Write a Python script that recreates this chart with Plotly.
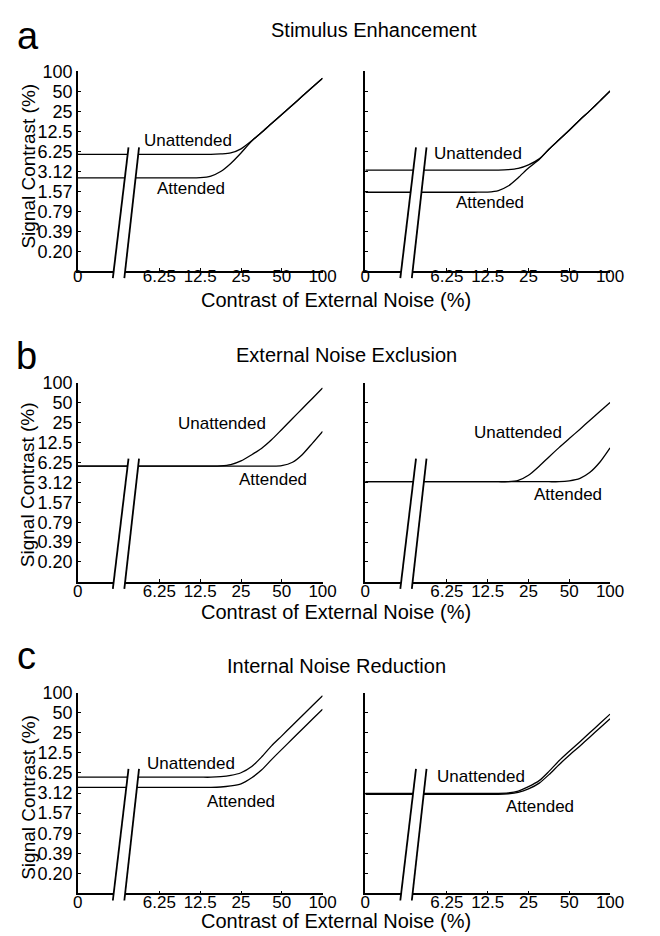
import math
import plotly.graph_objects as go

W, H = 660, 936

# ---------------- data ----------------
# x positions (contrast of external noise, %); "0" is drawn two octaves left of 6.25, before the axis break
x_noise = [1.5625, 6.25, 10, 12.5, 15, 17.7, 21, 25, 30, 35.4, 42, 50, 60, 70.7, 84, 100]

# (a) Stimulus Enhancement
a_left_unatt = [5.6, 5.6, 5.6, 5.6, 5.6, 5.7, 5.9, 6.8, 9.0, 12.0, 16.4, 22.4, 31.2, 42.0, 57.5, 78.6]
a_left_att = [2.48, 2.48, 2.48, 2.5, 2.65, 3.1, 4.1, 5.9, 8.9, 12.0, 16.4, 22.4, 31.2, 42.0, 57.5, 78.6]
a_right_unatt = [3.26, 3.26, 3.26, 3.26, 3.26, 3.3, 3.45, 3.9, 4.8, 6.7, 9.3, 13.0, 18.6, 25.4, 35.6, 50.5]
a_right_att = [1.51, 1.51, 1.51, 1.52, 1.6, 1.87, 2.5, 3.5, 4.7, 6.7, 9.3, 13.0, 18.6, 25.4, 35.6, 50.5]

# (b) External Noise Exclusion
b_left_unatt = [5.5, 5.5, 5.5, 5.5, 5.5, 5.55, 5.8, 6.6, 8.2, 10.2, 13.8, 19.8, 29.0, 40.8, 58.3, 84.0]
b_left_att = [5.5, 5.5, 5.5, 5.5, 5.5, 5.5, 5.5, 5.5, 5.5, 5.5, 5.5, 5.6, 6.3, 8.2, 12.2, 18.5]
b_right_unatt = [3.2, 3.2, 3.2, 3.2, 3.2, 3.2, 3.35, 4.0, 5.5, 7.6, 10.5, 14.4, 20.0, 27.0, 37.0, 50.7]
b_right_att = [3.2, 3.2, 3.2, 3.2, 3.2, 3.2, 3.2, 3.2, 3.2, 3.2, 3.2, 3.3, 3.6, 4.4, 6.3, 10.4]

# (c) Internal Noise Reduction
c_left_unatt = [5.4, 5.4, 5.4, 5.4, 5.4, 5.5, 5.75, 6.3, 7.8, 10.8, 15.9, 22.5, 32.5, 45.1, 63.6, 90.0]
c_left_att = [3.8, 3.8, 3.8, 3.8, 3.8, 3.85, 4.0, 4.3, 5.3, 6.9, 9.9, 14.1, 20.3, 28.2, 39.8, 56.4]
c_right_unatt = [3.1, 3.1, 3.1, 3.1, 3.1, 3.15, 3.35, 3.9, 4.8, 6.6, 9.5, 13.2, 18.4, 25.0, 34.4, 47.6]
c_right_att = [3.0, 3.0, 3.0, 3.0, 3.0, 3.05, 3.2, 3.6, 4.4, 5.9, 8.3, 11.5, 15.9, 21.5, 29.5, 40.5]

x_tickvals = [1.5625, 6.25, 12.5, 25, 50, 100]
x_ticktext = ["0", "6.25", "12.5", "25", "50", "100"]
y_tickvals = [0.195, 0.39, 0.78, 1.5625, 3.125, 6.25, 12.5, 25, 50, 100]
y_ticktext = ["0.20", "0.39", "0.79", "1.57", "3.12", "6.25", "12.5", "25", "50", "100"]

panel_titles = ["Stimulus Enhancement", "External Noise Exclusion", "Internal Noise Reduction"]
panel_letters = ["a", "b", "c"]
x_title = "Contrast of External Noise (%)"
y_title = "Signal Contrast (%)"

# ---------------- layout geometry (pixels) ----------------
FONT = "Liberation Sans, Arial, Helvetica, sans-serif"
cols_px = [(75, 327), (371, 623)]
rows_px = [(62, 264), (377, 578), (690, 893)]
row_label_standoff = [-11, -7, -8]


def px(x):
    return x / W


def py(y):
    return 1 - y / H


panels = [
    (a_left_unatt, a_left_att), (a_right_unatt, a_right_att),
    (b_left_unatt, b_left_att), (b_right_unatt, b_right_att),
    (c_left_unatt, c_left_att), (c_right_unatt, c_right_att),
]

fig = go.Figure()
layout = dict(
    width=W, height=H, margin=dict(l=0, r=0, t=0, b=0),
    paper_bgcolor="white", plot_bgcolor="white", showlegend=False,
    font=dict(family=FONT, color="black"),
)
shapes = []
annotations = []

for i, (unatt, att) in enumerate(panels):
    r, c = divmod(i, 2)
    n = i + 1
    xa = "x" if n == 1 else f"x{n}"
    ya = "y" if n == 1 else f"y{n}"
    for ys in (unatt, att):
        fig.add_trace(go.Scatter(
            x=x_noise, y=ys, mode="lines", xaxis=xa, yaxis=ya,
            line=dict(color="black", width=1.3, shape="spline", smoothing=0.7),
            hoverinfo="skip"))
    xk = "xaxis" if n == 1 else f"xaxis{n}"
    yk = "yaxis" if n == 1 else f"yaxis{n}"
    layout[xk] = dict(
        type="log", range=[math.log10(1.5625), 2], domain=[px(cols_px[c][0]), px(cols_px[c][1])],
        anchor=ya, tickmode="array", tickvals=x_tickvals, ticktext=x_ticktext,
        ticks="inside", ticklen=3, tickwidth=1, tickcolor="black",
        ticklabelstandoff=row_label_standoff[r],
        showline=True, linecolor="black", linewidth=1.6, showgrid=False, zeroline=False,
        tickfont=dict(size=17, family=FONT, color="black"), fixedrange=True)
    layout[yk] = dict(
        type="log", range=[math.log10(100 / 1024), 2],
        domain=[py(rows_px[r][1]), py(rows_px[r][0])],
        anchor=xa, tickmode="array", tickvals=y_tickvals, ticktext=y_ticktext,
        showticklabels=(c == 0),
        ticks="inside", ticklen=3, tickwidth=1, tickcolor="black",
        showline=True, linecolor="black", linewidth=1.6, showgrid=False, zeroline=False,
        tickfont=dict(size=18, family=FONT, color="black"), fixedrange=True)

    # axis break on the x axis (between "0" and 6.25)
    dxr, dyr = f"{xa} domain", f"{ya} domain"
    b0, b1 = -0.035, 0.62
    shapes.append(dict(type="path", xref=dxr, yref=dyr, layer="above",
                       path=f"M 0.143 {b0} L 0.190 {b0} L 0.250 {b1} L 0.207 {b1} Z",
                       fillcolor="white", line=dict(width=0)))
    for (x0, x1) in [(0.143, 0.207), (0.190, 0.250)]:
        shapes.append(dict(type="line", xref=dxr, yref=dyr, layer="above",
                           x0=x0, y0=b0, x1=x1, y1=b1, line=dict(color="black", width=1.8)))

# curve labels (pixel centers)
curve_labels = [
    ("Unattended", 188, 132), ("Attended", 191, 180),
    ("Unattended", 487, 145), ("Attended", 499, 195),
    ("Unattended", 223, 418), ("Attended", 276, 475),
    ("Unattended", 528, 427), ("Attended", 580, 490),
    ("Unattended", 191, 762), ("Attended", 243, 800),
    ("Unattended", 490, 775), ("Attended", 551, 805),
]
for txt, x, y in curve_labels:
    annotations.append(dict(text=txt, x=px(x), y=py(y), xref="paper", yref="paper",
                            showarrow=False, xanchor="center", yanchor="middle",
                            font=dict(size=17, family=FONT, color="black")))

letter_pos = [(24, 26), (22, 350), (22, 653)]
title_pos = [(380, 20), (352, 349), (341, 663)]
xtitle_y = [293, 608, 921]
ytitle_y = [158, 480, 796]
for r in range(3):
    annotations.append(dict(text=panel_letters[r], x=px(letter_pos[r][0]), y=py(letter_pos[r][1]),
                            xref="paper", yref="paper", showarrow=False,
                            xanchor="center", yanchor="middle",
                            font=dict(size=38, family=FONT, color="black")))
    annotations.append(dict(text=panel_titles[r], x=px(title_pos[r][0]), y=py(title_pos[r][1]),
                            xref="paper", yref="paper", showarrow=False,
                            xanchor="center", yanchor="middle",
                            font=dict(size=20, family=FONT, color="black")))
    annotations.append(dict(text=x_title, x=px(341), y=py(xtitle_y[r]),
                            xref="paper", yref="paper", showarrow=False,
                            xanchor="center", yanchor="middle",
                            font=dict(size=20, family=FONT, color="black")))
    annotations.append(dict(text=y_title, x=px(24), y=py(ytitle_y[r]), textangle=-90,
                            xref="paper", yref="paper", showarrow=False,
                            xanchor="center", yanchor="middle",
                            font=dict(size=19, family=FONT, color="black")))

layout["shapes"] = shapes
layout["annotations"] = annotations
fig.update_layout(**layout)
fig.write_html("out.html")
